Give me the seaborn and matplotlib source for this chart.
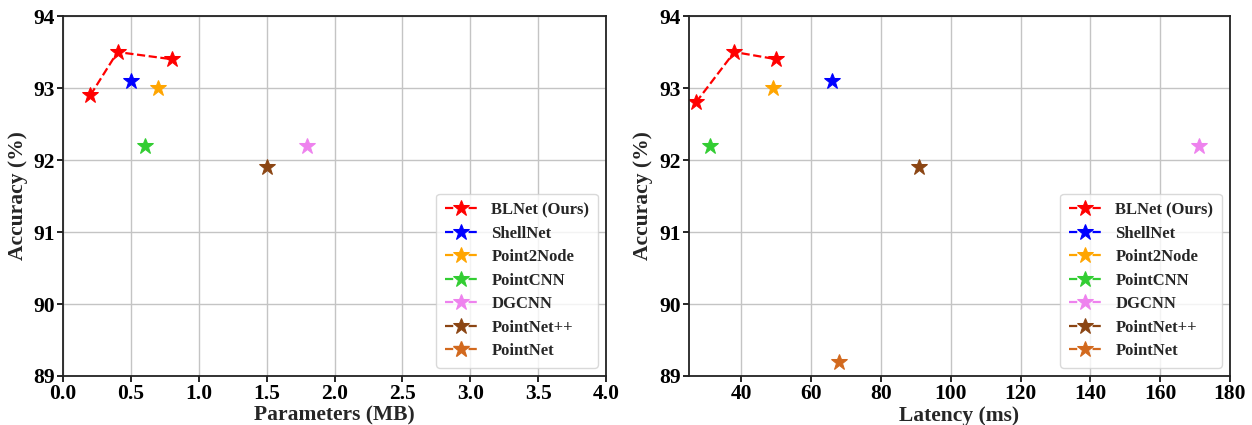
import numpy as np
import pandas as pd
import matplotlib
matplotlib.use("Agg")
import matplotlib.pyplot as plt
import seaborn as sns

# ---- data ----
models = ["BLNet (Ours)", "ShellNet", "Point2Node", "PointCNN", "DGCNN", "PointNet++", "PointNet"]
colors = ["red", "blue", "orange", "limegreen", "violet", "saddlebrown", "chocolate"]

params_x = {
    "BLNet (Ours)": [0.2, 0.4, 0.8],
    "ShellNet": [0.5],
    "Point2Node": [0.7],
    "PointCNN": [0.6],
    "DGCNN": [1.8],
    "PointNet++": [1.5],
    "PointNet": [],
}
params_acc = {
    "BLNet (Ours)": [92.9, 93.5, 93.4],
    "ShellNet": [93.1],
    "Point2Node": [93.0],
    "PointCNN": [92.2],
    "DGCNN": [92.2],
    "PointNet++": [91.9],
    "PointNet": [],
}
latency_x = {
    "BLNet (Ours)": [27, 38, 50],
    "ShellNet": [66],
    "Point2Node": [49],
    "PointCNN": [31],
    "DGCNN": [171],
    "PointNet++": [91],
    "PointNet": [68],
}
latency_acc = {
    "BLNet (Ours)": [92.8, 93.5, 93.4],
    "ShellNet": [93.1],
    "Point2Node": [93.0],
    "PointCNN": [92.2],
    "DGCNN": [92.2],
    "PointNet++": [91.9],
    "PointNet": [89.2],
}

sns.set_style("ticks")
plt.rcParams["font.family"] = ["Liberation Serif", "DejaVu Serif"]
plt.rcParams["font.weight"] = "bold"
plt.rcParams["axes.labelweight"] = "bold"

FS = 15.5

fig = plt.figure(figsize=(12.52, 4.25), dpi=100)
ax1 = fig.add_axes([0.0505, 0.1153, 0.4335, 0.847])
ax2 = fig.add_axes([0.5503, 0.1153, 0.4321, 0.847])


def draw(ax, xs, ys):
    for m, c in zip(models, colors):
        if len(xs[m]) > 0:
            sns.lineplot(x=xs[m], y=ys[m], ax=ax, color=c, marker="*", markersize=12,
                         markeredgecolor=c, linestyle="--", linewidth=1.6, label=m,
                         sort=False, estimator=None)
        else:
            ax.plot([], [], color=c, marker="*", markersize=12, linestyle="--",
                    linewidth=1.6, label=m)
    ax.grid(True, color="#c4c4c4", linewidth=1.0)
    ax.set_axisbelow(True)
    for s in ax.spines.values():
        s.set_color("#222222")
        s.set_linewidth(1.3)
    ax.tick_params(labelsize=FS, width=1.2, length=4, colors="black", pad=2)
    ax.set_ylabel("Accuracy (%)", fontsize=FS, fontweight="bold", labelpad=4)
    leg = ax.legend(loc="lower right", prop={"size": 12, "weight": "bold"},
                    frameon=True, fancybox=True, borderpad=0.5, labelspacing=0.45,
                    handlelength=2.0, handletextpad=0.8, borderaxespad=0.5)
    leg.get_frame().set_edgecolor("#d0d0d0")


draw(ax1, params_x, params_acc)
ax1.set_xlim(0, 4)
ax1.set_ylim(89, 94)
ticks1 = np.arange(0, 4.01, 0.5)
ax1.set_xticks(ticks1)
ax1.set_xticklabels([f"{v:.1f}" for v in ticks1], fontweight="bold")
ax1.set_yticks(range(89, 95))
ax1.set_yticklabels([str(v) for v in range(89, 95)], fontweight="bold")
ax1.set_xlabel("Parameters (MB)", fontsize=FS, fontweight="bold", labelpad=1)

draw(ax2, latency_x, latency_acc)
ax2.set_xlim(25, 180)
ax2.set_ylim(89, 94)
ax2.set_xticks(range(40, 181, 20))
ax2.set_xticklabels([str(v) for v in range(40, 181, 20)], fontweight="bold")
ax2.set_yticks(range(89, 95))
ax2.set_yticklabels([str(v) for v in range(89, 95)], fontweight="bold")
ax2.set_xlabel("Latency (ms)", fontsize=FS, fontweight="bold", labelpad=1)

fig.savefig("out.png", dpi=100)
